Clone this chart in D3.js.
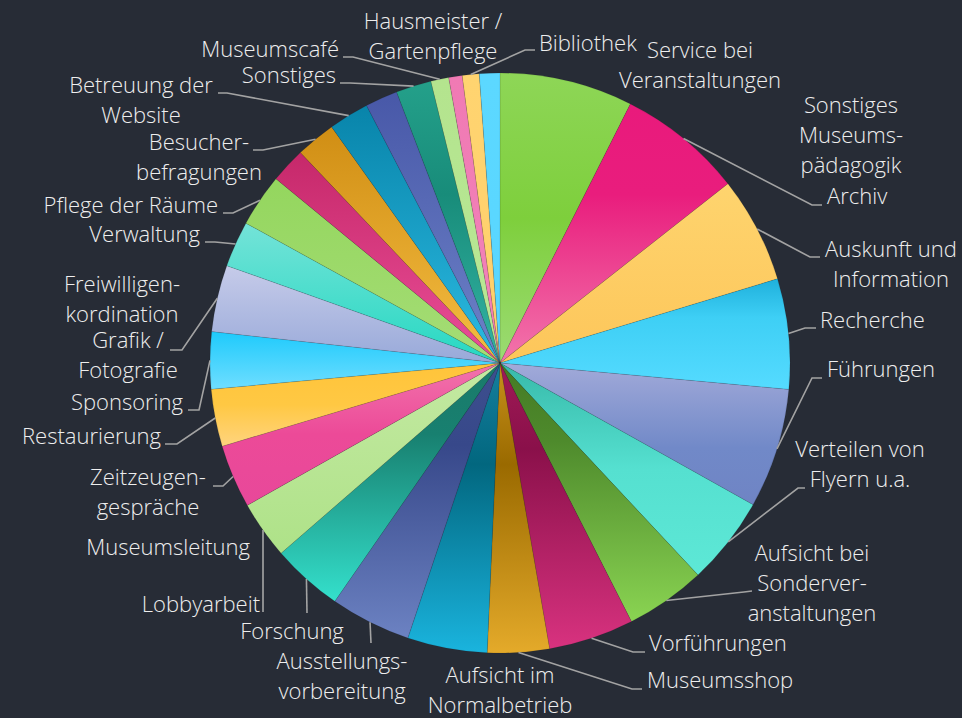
<!DOCTYPE html>
<html>
<head>
<meta charset="utf-8">
<script src="https://cdn.jsdelivr.net/npm/d3@7/dist/d3.min.js"></script>
<style>
  html, body { margin: 0; padding: 0; background: #272c36; }
  svg { display: block; }
  .lbl { font-family: "Open Sans", sans-serif; font-weight: 300; font-size: 22px; fill: #eeeeee; }
  .conn { fill: none; stroke: #a3a3a3; stroke-width: 1.6; }
</style>
</head>
<body>
<svg width="962" height="718"></svg>
<script>
// Anteil der Tätigkeiten (Prozent), im Uhrzeigersinn ab 12 Uhr
var categories = [
  "Service bei\nVeranstaltungen", "Archiv", "Auskunft und\nInformation", "Recherche",
  "Führungen", "Verteilen von\nFlyern u.a.", "Aufsicht bei\nSonderver-\nanstaltungen", "Vorführungen",
  "Museumsshop", "Aufsicht im\nNormalbetrieb", "Ausstellungs-\nvorbereitung", "Forschung",
  "Lobbyarbeit", "Zeitzeugen-\ngespräche", "Restaurierung", "Sponsoring",
  "Grafik /\nFotografie", "Verwaltung", "Pflege der Räume", "Freiwilligen-\nkordination",
  "Besucher-\nbefragungen", "Betreuung der\nWebsite", "Museumsleitung", "Sonstiges",
  "Museumscafé", "Hausmeister /\nGartenpflege", "Bibliothek", "Sonstiges\nMuseums-\npädagogik"
];
var values = [
  7.42, 6.97, 5.92, 6.14, 6.67, 4.92, 4.47, 4.75,
  3.44, 4.44, 4.50, 3.97, 3.22, 3.53, 3.19, 3.17,
  3.72, 2.56, 2.94, 1.97, 2.22, 2.25, 1.81, 1.97,
  1.00, 0.75, 0.94, 1.14
];

// vertical gradient stops per slice (top -> bottom)
var sliceStops = [
  [[0, "#8ed657"], [0.5, "#7ecf3c"], [1, "#9cdb74"]],
  [[0, "#e91a7c"], [0.35, "#e91d7d"], [1, "#f276ac"]],
  [[0, "#fed46e"], [1, "#fdc65a"]],
  [[0, "#1fb0dc"], [0.35, "#3ecff5"], [1, "#55dbff"]],
  [[0, "#a2aad9"], [0.6, "#7189c8"], [1, "#6f84c4"]],
  [[0, "#37b9a9"], [0.5, "#55e0d0"], [1, "#5de8d6"]],
  [[0, "#457a24"], [0.3, "#4e8a2c"], [1, "#8ad452"]],
  [[0, "#a01a56"], [0.3, "#8a104a"], [1, "#d8327f"]],
  [[0, "#c8921c"], [0.35, "#9a6a00"], [1, "#e4aa2a"]],
  [[0, "#157f9e"], [0.35, "#02677f"], [1, "#1ab4de"]],
  [[0, "#3d4f8e"], [0.3, "#37488a"], [1, "#6c82c2"]],
  [[0, "#1a7a6a"], [0.3, "#188070"], [1, "#34e0cc"]],
  [[0, "#c4e9a2"], [1, "#aee288"]],
  [[0, "#f274ac"], [0.5, "#ec4a98"], [1, "#e8489a"]],
  [[0, "#ffc43a"], [0.5, "#ffc843"], [1, "#ffd47e"]],
  [[0, "#1ecafc"], [1, "#6fdeff"]],
  [[0, "#c6cbe9"], [1, "#98a9d9"]],
  [[0, "#74e3d8"], [1, "#26d8c2"]],
  [[0, "#94d65e"], [1, "#a5dd76"]],
  [[0, "#c6286a"], [1, "#ea4f98"]],
  [[0, "#d08e14"], [1, "#f5bd42"]],
  [[0, "#0884aa"], [1, "#2cbbe2"]],
  [[0, "#4858a8"], [1, "#6d82c8"]],
  [[0, "#24a08a"], [0.4, "#188c7a"], [1, "#34b4a4"]],
  [[0, "#b4e48e"], [1, "#b8e896"]],
  [[0, "#f07ab4"], [1, "#f283b9"]],
  [[0, "#ffd470"], [1, "#ffcf6c"]],
  [[0, "#5cd8ff"], [1, "#58d6ff"]]
];

// label placement: text anchor point + connector elbow/end (none = no connector)
var labelLayout = [
  {x: 700, y: 58,  a: "middle"},
  {x: 827, y: 204, a: "start",  elbow: [812, 205], end: [822, 205]},
  {x: 891, y: 257, a: "middle", elbow: [810, 257], end: [820, 257]},
  {x: 820, y: 328, a: "start",  elbow: [805, 328], end: [816, 328]},
  {x: 827, y: 377, a: "start",  elbow: [812, 378], end: [822, 378]},
  {x: 860, y: 457, a: "middle", elbow: [798, 488], end: [805, 488]},
  {x: 812, y: 561, a: "middle", elbow: [744, 592], end: [752, 591]},
  {x: 649, y: 651, a: "start",  elbow: [633, 652], end: [645, 652]},
  {x: 647, y: 688, a: "start",  elbow: [632, 689], end: [642, 689]},
  {x: 500, y: 683, a: "middle"},
  {x: 342, y: 669, a: "middle", elbow: [371, 643], end: [371, 643]},
  {x: 292, y: 639, a: "middle", elbow: [307, 613], end: [307, 613]},
  {x: 260, y: 612, a: "end",    elbow: [263, 612], end: [263, 612]},
  {x: 148, y: 485, a: "middle", elbow: [223, 486], end: [213, 486]},
  {x: 161, y: 444, a: "end",    elbow: [177, 444], end: [165, 444]},
  {x: 183, y: 410, a: "end",    elbow: [199, 410], end: [188, 410]},
  {x: 128, y: 348, a: "middle", elbow: [182, 350], end: [170, 350]},
  {x: 200, y: 242, a: "end",    elbow: [215, 242], end: [205, 242]},
  {x: 218, y: 213, a: "end",    elbow: [233, 213], end: [223, 213]},
  {x: 122, y: 292, a: "middle"},
  {x: 199, y: 150, a: "middle", elbow: [263, 150], end: [253, 150]},
  {x: 141, y: 93,  a: "middle", elbow: [227, 93],  end: [218, 93]},
  {x: 250, y: 555, a: "end"},
  {x: 336, y: 83,  a: "end",    elbow: [350, 83],  end: [340, 83]},
  {x: 339, y: 57,  a: "end",    elbow: [353, 57],  end: [343, 57]},
  {x: 433, y: 29,  a: "middle"},
  {x: 539, y: 51,  a: "start",  elbow: [525, 50],  end: [535, 50]},
  {x: 851, y: 113, a: "middle"}
];

var svg = d3.select("svg"),
    cx = 500, cy = 363, radius = 290,
    lineHeight = 30;

var data = categories.map(function(c, i) { return {name: c, value: values[i]}; });

var pie = d3.pie().sort(null).value(function(d) { return d.value; });
var arc = d3.arc().innerRadius(0).outerRadius(radius);
var edgeArc = d3.arc().innerRadius(radius).outerRadius(radius);

var defs = svg.append("defs");
sliceStops.forEach(function(stops, i) {
  var grad = defs.append("linearGradient")
      .attr("id", "grad" + i)
      .attr("x1", 0).attr("y1", 0).attr("x2", 0).attr("y2", 1);
  grad.selectAll("stop")
    .data(stops)
    .enter().append("stop")
      .attr("offset", function(s) { return s[0]; })
      .attr("stop-color", function(s) { return s[1]; });
});

var g = svg.append("g")
    .attr("transform", "translate(" + cx + "," + cy + ")");

var arcs = pie(data);

g.selectAll(".slice")
  .data(arcs)
  .enter().append("path")
    .attr("class", "slice")
    .attr("d", arc)
    .attr("fill", function(d, i) { return "url(#grad" + i + ")"; })
    .attr("stroke", "rgba(0,0,0,0.15)")
    .attr("stroke-width", 0.6);

// connectors
g.selectAll(".conn")
  .data(arcs.filter(function(d, i) { return labelLayout[i].elbow; }))
  .enter().append("polyline")
    .attr("class", "conn")
    .attr("points", function(d) {
      var L = labelLayout[d.index];
      var p = edgeArc.centroid(d);
      return [p,
              [L.elbow[0] - cx, L.elbow[1] - cy],
              [L.end[0] - cx, L.end[1] - cy]].join(" ");
    });

// labels
var labels = svg.selectAll(".lbl")
  .data(data)
  .enter().append("text")
    .attr("class", "lbl")
    .attr("text-anchor", function(d, i) { return labelLayout[i].a; })
    .attr("x", function(d, i) { return labelLayout[i].x; })
    .attr("y", function(d, i) { return labelLayout[i].y; });

labels.each(function(d, i) {
  var t = d3.select(this);
  d.name.split("\n").forEach(function(line, k) {
    t.append("tspan")
      .attr("x", labelLayout[i].x)
      .attr("dy", k === 0 ? 0 : lineHeight)
      .text(line);
  });
});
</script>
</body>
</html>
